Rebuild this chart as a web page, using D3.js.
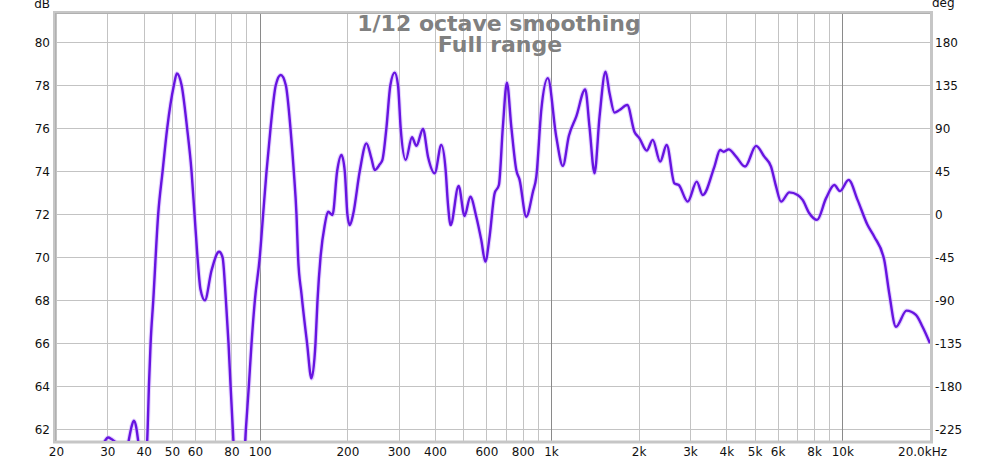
<!DOCTYPE html>
<html><head><meta charset="utf-8">
<script src="https://cdn.jsdelivr.net/npm/d3@7"></script>
<style>
html,body{margin:0;padding:0;background:#fff;}
svg{display:block;font-family:"DejaVu Sans",sans-serif;}
</style></head><body>
<svg id="chart" width="1000" height="461"></svg>
<script>
const titleLines = ["1/12 octave smoothing", "Full range"];
const freqs = [20, 25, 28.5, 29.4, 30.2, 31.0, 32.0, 33.5, 35.0, 35.5, 36.3, 37.0, 37.7, 38.3, 39.3, 40.3,
  41.26, 41.68, 42.24, 43.14, 44.85, 46.44, 48.16, 50.78, 52.0, 53.97, 56.38, 58.38, 59.78, 61.2, 62.67, 64.87,
  68.4, 72.6, 74.6, 76.6, 78.2, 79.5, 80.9, 84, 87, 89.7, 91.8, 93.8, 96.3, 100.1, 102.8, 105.6, 109.0, 113.6,
  118.2, 123.0, 127.6, 131.0, 133.8, 135.5, 139.2, 145.5, 150.6, 155.5, 158.0, 161.8, 167.3, 171.8, 177.9,
  184.5, 190.9, 196.0, 200.1, 203.8, 209.4, 220.6, 232.6, 241.9, 248.3, 258.3, 263.9, 272.3, 281.0, 290.8,
  298.5, 304.9, 317.2, 333.4, 345.2, 363.7, 378.4, 398.9, 420.4, 434.9, 442.9, 452.4, 482.0, 505.3, 528.5,
  554.2, 576.6, 595.2, 615.7, 640.5, 662.6, 683.8, 705.9, 730.9, 760.3, 780.4, 822.6, 867, 890.6, 926.3,
  975.6, 1042.5, 1098.4, 1151.7, 1221, 1311, 1356, 1411, 1468, 1539, 1589, 1652, 1719, 1827, 1934, 2013,
  2132, 2235, 2370, 2496, 2653, 2745, 2947, 3165, 3318, 3640, 3807, 3917, 4074, 4320, 4637, 5059, 5400,
  5694, 5923, 6164, 6580, 7025, 7308, 7705, 8190, 8790, 9387, 9817, 10510, 11280, 12210, 12876, 13930,
  14490, 15280, 16615, 17890, 18850, 20000];
const splDb = [59.0, 60.3, 61.1, 61.45, 61.62, 61.55, 61.4, 60.9, 61.0, 61.45, 62.1, 62.4, 62.1, 61.45, 60.2, 59.8,
  62, 64, 66, 68, 72, 74, 76, 78, 78.55, 78, 76, 74, 72, 70, 68.5, 68.0,
  69.4, 70.26, 70, 68, 66, 64, 62, 58.5, 59.0, 62, 64, 66, 68, 70, 72, 74, 76, 78,
  78.48, 78, 76, 74, 72, 70, 68.3, 66, 64.37, 66, 68, 70, 71.5, 72.12, 71.97,
  74, 74.76, 74, 72, 71.5, 72, 74, 75.3, 74.6, 74.06, 74.32, 74.53, 76, 78, 78.59,
  78, 76, 74.53, 75.58, 75.18, 75.97, 74.68, 73.91, 75.22, 74.06, 72.5, 71.5, 73.32, 71.92, 72.82,
  71.89, 70.8, 69.8, 70.97, 72.97, 73.36, 76.07, 78.12, 76.07, 74.06, 73.6, 71.89, 73.04, 73.74, 76.85,
  78.33, 75.61, 74.25, 75.64, 76.54, 77.81, 76.07, 73.91, 76.54, 78.63, 77.63, 76.73, 76.85, 77.08, 75.84, 75.53,
  74.96, 75.46, 74.45, 75.22, 73.44, 73.36, 72.59, 73.52, 72.9, 74.22, 74.99, 74.91, 75.02, 74.68, 74.22, 75.18, 74.68,
  74.22, 73.3, 72.59, 73.02, 72.9, 72.67, 72.05, 71.74, 72.74, 73.36, 73.08, 73.6, 72.67, 71.5, 70.96, 69.87,
  68.33, 66.77, 67.52, 67.32, 66.77, 66.0];
const gridFreqs = [20,30,40,50,60,70,80,90,100,200,300,400,500,600,700,800,900,1000,
  2000,3000,4000,5000,6000,7000,8000,9000,10000];
const majorFreqs = [100, 1000, 10000];
const xTickValues = [20,30,40,50,60,80,100,200,300,400,600,800,1000,2000,3000,4000,5000,6000,8000,10000];
const xTickLabels = ["20","30","40","50","60","80","100","200","300","400","600","800","1k","2k","3k","4k","5k","6k","8k","10k"];
const xEndLabel = "20.0kHz";
const dbTicks = [62,64,66,68,70,72,74,76,78,80];
const degTicks = [-225,-180,-135,-90,-45,0,45,90,135,180];
const leftUnit = "dB", rightUnit = "deg";

const L = 56, R = 930, T = 13, B = 441;
const svg = d3.select("#chart");
const x = d3.scaleLog().domain([20, 20000]).range([L, R]);
const y = d3.scaleLinear().domain([61.46, 81.36]).range([B, T]);
const yDeg = d3.scaleLinear().domain([(61.46-72)*22.5, (81.36-72)*22.5]).range([B, T]);

svg.append("defs").append("clipPath").attr("id","clip")
  .append("rect").attr("x",L).attr("y",T).attr("width",R-L).attr("height",B-T);

// grid
const g = svg.append("g");
g.selectAll("line.hg").data(dbTicks).enter().append("line")
  .attr("x1",L).attr("x2",R).attr("y1",d=>Math.round(y(d))+0.5).attr("y2",d=>Math.round(y(d))+0.5)
  .attr("stroke","#c3c3c3").attr("stroke-width",1);
g.selectAll("line.vg").data(gridFreqs).enter().append("line")
  .attr("y1",T).attr("y2",B).attr("x1",d=>Math.round(x(d))+0.5).attr("x2",d=>Math.round(x(d))+0.5)
  .attr("stroke",d=>majorFreqs.includes(d)?"#8a8a8a":"#c3c3c3").attr("stroke-width",1);

// frame
svg.append("rect").attr("x",L-1.5).attr("y",T-0.5).attr("width",R-L+3).attr("height",B-T+1.5)
  .attr("fill","none").attr("stroke","#c6c6c6").attr("stroke-width",3);
svg.append("line").attr("x1",L-0.5).attr("x2",L-0.5).attr("y1",T).attr("y2",B).attr("stroke","#b0b0b0");
svg.append("line").attr("x1",L).attr("x2",R).attr("y1",T+0.5).attr("y2",T+0.5).attr("stroke","#b0b0b0");

// title
const tg = svg.append("g").attr("font-weight","bold").attr("font-size",22).attr("fill","#808080").attr("text-anchor","middle");
tg.append("text").attr("x",499).attr("y",31).text(titleLines[0]);
tg.append("text").attr("x",500).attr("y",52).text(titleLines[1]);

// curve
const pts = freqs.map((f,i)=>[f, splDb[i]]);
const line = d3.line().x(d=>x(d[0])).y(d=>y(d[1])).curve(d3.curveMonotoneX);
const cg = svg.append("g").attr("clip-path","url(#clip)");
cg.append("path").attr("d",line(pts)).attr("fill","none").attr("stroke","#c9a8ff").attr("stroke-opacity",0.5).attr("stroke-width",4.5);
cg.append("path").attr("d",line(pts)).attr("fill","none").attr("stroke","#6714e0").attr("stroke-width",2.4).attr("stroke-linejoin","round");

// axes labels
const lab = svg.append("g").attr("font-size",12).attr("fill","#111");
lab.selectAll("text.l").data(dbTicks).enter().append("text")
  .attr("x",50).attr("y",d=>y(d)+4.5).attr("text-anchor","end").text(d=>d);
lab.selectAll("text.r").data(degTicks).enter().append("text")
  .attr("x",935).attr("y",d=>yDeg(d)+4.5).attr("text-anchor","start").text(d=>d);
lab.selectAll("text.b").data(xTickValues).enter().append("text")
  .attr("x",d=>x(d)+0.5).attr("y",455.5).attr("text-anchor","middle").text((d,i)=>xTickLabels[i]);
lab.append("text").attr("x",898).attr("y",455.5).attr("text-anchor","start").text(xEndLabel);
lab.append("text").attr("x",50).attr("y",8).attr("text-anchor","end").text(leftUnit);
lab.append("text").attr("x",932).attr("y",7).attr("text-anchor","start").text(rightUnit);
</script>
</body></html>
